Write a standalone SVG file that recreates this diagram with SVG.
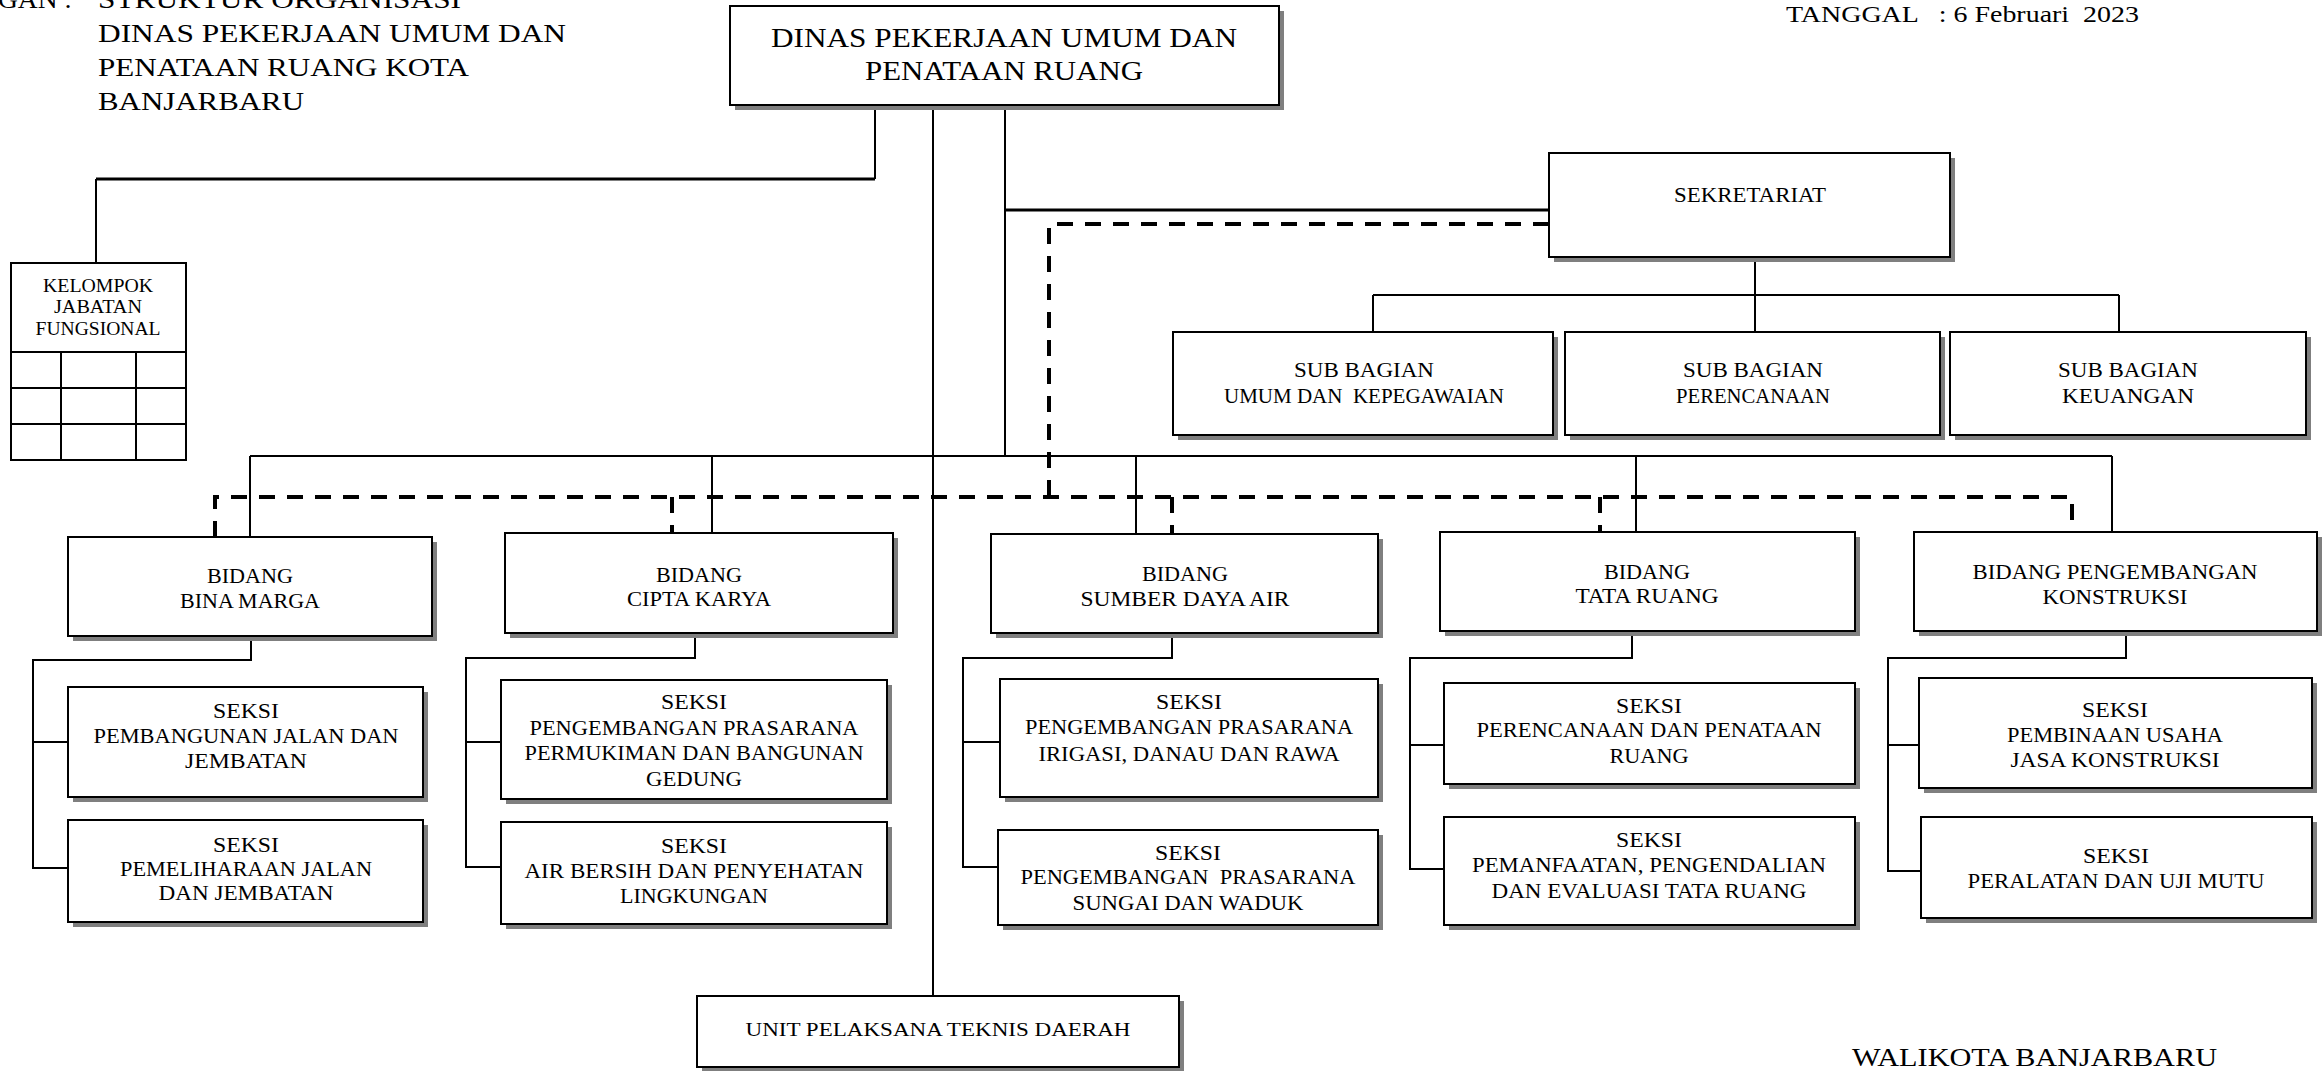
<svg xmlns="http://www.w3.org/2000/svg" width="2322" height="1071" viewBox="0 0 2322 1071">
<style>
.sh{fill:#7f7f7f}
.bx{fill:#fff;stroke:#000;stroke-width:2}
.t{font-family:"Liberation Serif","Times New Roman",serif;fill:#000;text-anchor:middle}
.tl{font-family:"Liberation Serif","Times New Roman",serif;fill:#000}
.ln{stroke:#000;stroke-width:2;fill:none}
.lt{stroke:#000;stroke-width:3;fill:none}
.ds{stroke:#000;stroke-width:4;fill:none;stroke-dasharray:16 12}
.b{font-size:22px}
.s{font-size:21px}
.u{font-size:20px}
</style>
<rect width="2322" height="1071" fill="#fff"/>
<g id="header">
<text class="tl" x="-2" y="8" font-size="26" textLength="74" lengthAdjust="spacingAndGlyphs">GAN :</text>
<text class="tl" x="98" y="8" font-size="26" textLength="363" lengthAdjust="spacingAndGlyphs">STRUKTUR ORGANISASI</text>
<text class="tl" x="98" y="42" font-size="26" textLength="468" lengthAdjust="spacingAndGlyphs">DINAS PEKERJAAN UMUM DAN</text>
<text class="tl" x="98" y="76" font-size="26" textLength="371" lengthAdjust="spacingAndGlyphs">PENATAAN RUANG KOTA</text>
<text class="tl" x="98" y="110" font-size="26" textLength="206" lengthAdjust="spacingAndGlyphs">BANJARBARU</text>
<text class="tl" x="1786" y="22" font-size="23" textLength="353" lengthAdjust="spacingAndGlyphs" xml:space="preserve">TANGGAL   : 6 Februari  2023</text>
<text class="tl" x="1852" y="1066" font-size="25" textLength="365" lengthAdjust="spacingAndGlyphs">WALIKOTA BANJARBARU</text>
</g>
<g id="connectors">
<path class="ln" d="M875,105 V179"/>
<path class="lt" d="M875,179 H96"/>
<path class="ln" d="M96,179 V263"/>
<path class="ln" d="M933,105 V996"/>
<path class="ln" d="M1005,105 V457"/>
<path class="lt" d="M1005,210 H1549"/>
<path class="ln" d="M1755,262 V295 M1373,295 H2119 M1373,295 V332 M1755,295 V332 M2119,295 V332"/>
<path class="ln" d="M250,456 H2112 M250,456 V537 M712,456 V533 M1136,456 V534 M1636,456 V532 M2112,456 V532"/>
<path class="ds" d="M1549,224 H1049 V497"/>
<path class="ds" d="M215,537 V497 H2072 V532"/>
<path class="ds" d="M672,497 V533 M1172,497 V534 M1600,497 V532"/>
<path class="ln" d="M251,641 V660 H33 V868 H68 M33,742 H68"/>
<path class="ln" d="M695,638 V658 H466 V867 H501 M466,742 H501"/>
<path class="ln" d="M1172,638 V658 H963 V867 H998 M963,742 H1000"/>
<path class="ln" d="M1632,636 V658 H1410 V869 H1444 M1410,745 H1444"/>
<path class="ln" d="M2126,636 V658 H1888 V871 H1921 M1888,745 H1919"/>
</g>
<g id="top">
<rect class="sh" x="735" y="11" width="549" height="99"/>
<rect class="bx" x="730" y="6" width="549" height="99" stroke-width="2.5"/>
<text class="t" x="1004" y="47" font-size="27" textLength="466" lengthAdjust="spacingAndGlyphs">DINAS PEKERJAAN UMUM DAN</text>
<text class="t" x="1004" y="80" font-size="27" textLength="278" lengthAdjust="spacingAndGlyphs">PENATAAN RUANG</text>
</g>
<g id="kjf">
<rect class="bx" x="11" y="263" width="175" height="197"/>
<path class="ln" d="M11,352 H186 M11,388 H186 M11,424 H186 M61,352 V460 M136,352 V460"/>
<text class="t" x="98" y="292" font-size="19" textLength="110" lengthAdjust="spacingAndGlyphs">KELOMPOK</text>
<text class="t" x="98" y="313" font-size="19" textLength="88" lengthAdjust="spacingAndGlyphs">JABATAN</text>
<text class="t" x="98" y="335" font-size="19" textLength="125" lengthAdjust="spacingAndGlyphs">FUNGSIONAL</text>
</g>
<g id="sekretariat">
<rect class="sh" x="1554" y="158" width="401" height="104"/>
<rect class="bx" x="1549" y="153" width="401" height="104"/>
<text class="t s" x="1750" y="202" textLength="152" lengthAdjust="spacingAndGlyphs">SEKRETARIAT</text>
</g>
<g id="sb1">
<rect class="sh" x="1178" y="337" width="380" height="103"/>
<rect class="bx" x="1173" y="332" width="380" height="103"/>
<text class="t u" x="1364" y="377" textLength="140" lengthAdjust="spacingAndGlyphs">SUB BAGIAN</text>
<text class="t u" x="1364" y="403" textLength="280" lengthAdjust="spacingAndGlyphs" xml:space="preserve">UMUM DAN  KEPEGAWAIAN</text>
</g>
<g id="sb2">
<rect class="sh" x="1570" y="337" width="375" height="103"/>
<rect class="bx" x="1565" y="332" width="375" height="103"/>
<text class="t u" x="1753" y="377" textLength="140" lengthAdjust="spacingAndGlyphs">SUB BAGIAN</text>
<text class="t u" x="1753" y="403" textLength="154" lengthAdjust="spacingAndGlyphs">PERENCANAAN</text>
</g>
<g id="sb3">
<rect class="sh" x="1955" y="337" width="356" height="103"/>
<rect class="bx" x="1950" y="332" width="356" height="103"/>
<text class="t u" x="2128" y="377" textLength="140" lengthAdjust="spacingAndGlyphs">SUB BAGIAN</text>
<text class="t u" x="2128" y="403" textLength="132" lengthAdjust="spacingAndGlyphs">KEUANGAN</text>
</g>
<g id="b1">
<rect class="sh" x="73" y="542" width="364" height="99"/>
<rect class="bx" x="68" y="537" width="364" height="99"/>
<text class="t b" x="250" y="583" textLength="86" lengthAdjust="spacingAndGlyphs">BIDANG</text>
<text class="t b" x="250" y="608" textLength="140" lengthAdjust="spacingAndGlyphs">BINA MARGA</text>
</g>
<g id="b2">
<rect class="sh" x="510" y="538" width="388" height="100"/>
<rect class="bx" x="505" y="533" width="388" height="100"/>
<text class="t b" x="699" y="582" textLength="86" lengthAdjust="spacingAndGlyphs">BIDANG</text>
<text class="t b" x="699" y="606" textLength="144" lengthAdjust="spacingAndGlyphs">CIPTA KARYA</text>
</g>
<g id="b3">
<rect class="sh" x="996" y="539" width="387" height="99"/>
<rect class="bx" x="991" y="534" width="387" height="99"/>
<text class="t b" x="1185" y="581" textLength="86" lengthAdjust="spacingAndGlyphs">BIDANG</text>
<text class="t b" x="1185" y="606" textLength="209" lengthAdjust="spacingAndGlyphs">SUMBER DAYA AIR</text>
</g>
<g id="b4">
<rect class="sh" x="1445" y="537" width="415" height="99"/>
<rect class="bx" x="1440" y="532" width="415" height="99"/>
<text class="t b" x="1647" y="579" textLength="86" lengthAdjust="spacingAndGlyphs">BIDANG</text>
<text class="t b" x="1647" y="603" textLength="143" lengthAdjust="spacingAndGlyphs">TATA RUANG</text>
</g>
<g id="b5">
<rect class="sh" x="1919" y="537" width="403" height="99"/>
<rect class="bx" x="1914" y="532" width="403" height="99"/>
<text class="t b" x="2115" y="579" textLength="285" lengthAdjust="spacingAndGlyphs">BIDANG PENGEMBANGAN</text>
<text class="t b" x="2115" y="604" textLength="145" lengthAdjust="spacingAndGlyphs">KONSTRUKSI</text>
</g>
<g id="s11">
<rect class="sh" x="73" y="692" width="355" height="110"/>
<rect class="bx" x="68" y="687" width="355" height="110"/>
<text class="t s" x="246" y="718" textLength="66" lengthAdjust="spacingAndGlyphs">SEKSI</text>
<text class="t s" x="246" y="743" textLength="305" lengthAdjust="spacingAndGlyphs">PEMBANGUNAN JALAN DAN</text>
<text class="t s" x="246" y="768" textLength="122" lengthAdjust="spacingAndGlyphs">JEMBATAN</text>
</g>
<g id="s12">
<rect class="sh" x="73" y="825" width="355" height="102"/>
<rect class="bx" x="68" y="820" width="355" height="102"/>
<text class="t s" x="246" y="852" textLength="66" lengthAdjust="spacingAndGlyphs">SEKSI</text>
<text class="t s" x="246" y="876" textLength="252" lengthAdjust="spacingAndGlyphs">PEMELIHARAAN JALAN</text>
<text class="t s" x="246" y="900" textLength="175" lengthAdjust="spacingAndGlyphs">DAN JEMBATAN</text>
</g>
<g id="s21">
<rect class="sh" x="506" y="685" width="386" height="119"/>
<rect class="bx" x="501" y="680" width="386" height="119"/>
<text class="t s" x="694" y="709" textLength="66" lengthAdjust="spacingAndGlyphs">SEKSI</text>
<text class="t s" x="694" y="735" textLength="329" lengthAdjust="spacingAndGlyphs">PENGEMBANGAN PRASARANA</text>
<text class="t s" x="694" y="760" textLength="339" lengthAdjust="spacingAndGlyphs">PERMUKIMAN DAN BANGUNAN</text>
<text class="t s" x="694" y="786" textLength="96" lengthAdjust="spacingAndGlyphs">GEDUNG</text>
</g>
<g id="s22">
<rect class="sh" x="506" y="827" width="386" height="102"/>
<rect class="bx" x="501" y="822" width="386" height="102"/>
<text class="t s" x="694" y="853" textLength="66" lengthAdjust="spacingAndGlyphs">SEKSI</text>
<text class="t s" x="694" y="878" textLength="339" lengthAdjust="spacingAndGlyphs">AIR BERSIH DAN PENYEHATAN</text>
<text class="t s" x="694" y="903" textLength="148" lengthAdjust="spacingAndGlyphs">LINGKUNGAN</text>
</g>
<g id="s31">
<rect class="sh" x="1005" y="684" width="378" height="118"/>
<rect class="bx" x="1000" y="679" width="378" height="118"/>
<text class="t s" x="1189" y="709" textLength="66" lengthAdjust="spacingAndGlyphs">SEKSI</text>
<text class="t s" x="1189" y="734" textLength="328" lengthAdjust="spacingAndGlyphs">PENGEMBANGAN PRASARANA</text>
<text class="t s" x="1189" y="761" textLength="301" lengthAdjust="spacingAndGlyphs">IRIGASI, DANAU DAN RAWA</text>
</g>
<g id="s32">
<rect class="sh" x="1003" y="835" width="380" height="95"/>
<rect class="bx" x="998" y="830" width="380" height="95"/>
<text class="t s" x="1188" y="860" textLength="66" lengthAdjust="spacingAndGlyphs">SEKSI</text>
<text class="t s" x="1188" y="884" textLength="335" lengthAdjust="spacingAndGlyphs" xml:space="preserve">PENGEMBANGAN  PRASARANA</text>
<text class="t s" x="1188" y="910" textLength="231" lengthAdjust="spacingAndGlyphs">SUNGAI DAN WADUK</text>
</g>
<g id="s41">
<rect class="sh" x="1449" y="688" width="411" height="101"/>
<rect class="bx" x="1444" y="683" width="411" height="101"/>
<text class="t s" x="1649" y="713" textLength="66" lengthAdjust="spacingAndGlyphs">SEKSI</text>
<text class="t s" x="1649" y="737" textLength="345" lengthAdjust="spacingAndGlyphs">PERENCANAAN DAN PENATAAN</text>
<text class="t s" x="1649" y="763" textLength="79" lengthAdjust="spacingAndGlyphs">RUANG</text>
</g>
<g id="s42">
<rect class="sh" x="1449" y="822" width="411" height="108"/>
<rect class="bx" x="1444" y="817" width="411" height="108"/>
<text class="t s" x="1649" y="847" textLength="66" lengthAdjust="spacingAndGlyphs">SEKSI</text>
<text class="t s" x="1649" y="872" textLength="354" lengthAdjust="spacingAndGlyphs">PEMANFAATAN, PENGENDALIAN</text>
<text class="t s" x="1649" y="898" textLength="315" lengthAdjust="spacingAndGlyphs">DAN EVALUASI TATA RUANG</text>
</g>
<g id="s51">
<rect class="sh" x="1924" y="683" width="393" height="110"/>
<rect class="bx" x="1919" y="678" width="393" height="110"/>
<text class="t s" x="2115" y="717" textLength="66" lengthAdjust="spacingAndGlyphs">SEKSI</text>
<text class="t s" x="2115" y="742" textLength="216" lengthAdjust="spacingAndGlyphs">PEMBINAAN USAHA</text>
<text class="t s" x="2115" y="767" textLength="209" lengthAdjust="spacingAndGlyphs">JASA KONSTRUKSI</text>
</g>
<g id="s52">
<rect class="sh" x="1926" y="822" width="391" height="101"/>
<rect class="bx" x="1921" y="817" width="391" height="101"/>
<text class="t s" x="2116" y="863" textLength="66" lengthAdjust="spacingAndGlyphs">SEKSI</text>
<text class="t s" x="2116" y="888" textLength="297" lengthAdjust="spacingAndGlyphs">PERALATAN DAN UJI MUTU</text>
</g>
<g id="upt">
<rect class="sh" x="702" y="1001" width="482" height="71"/>
<rect class="bx" x="697" y="996" width="482" height="71"/>
<text class="t" x="938" y="1036" font-size="19" textLength="385" lengthAdjust="spacingAndGlyphs">UNIT PELAKSANA TEKNIS DAERAH</text>
</g>
</svg>
